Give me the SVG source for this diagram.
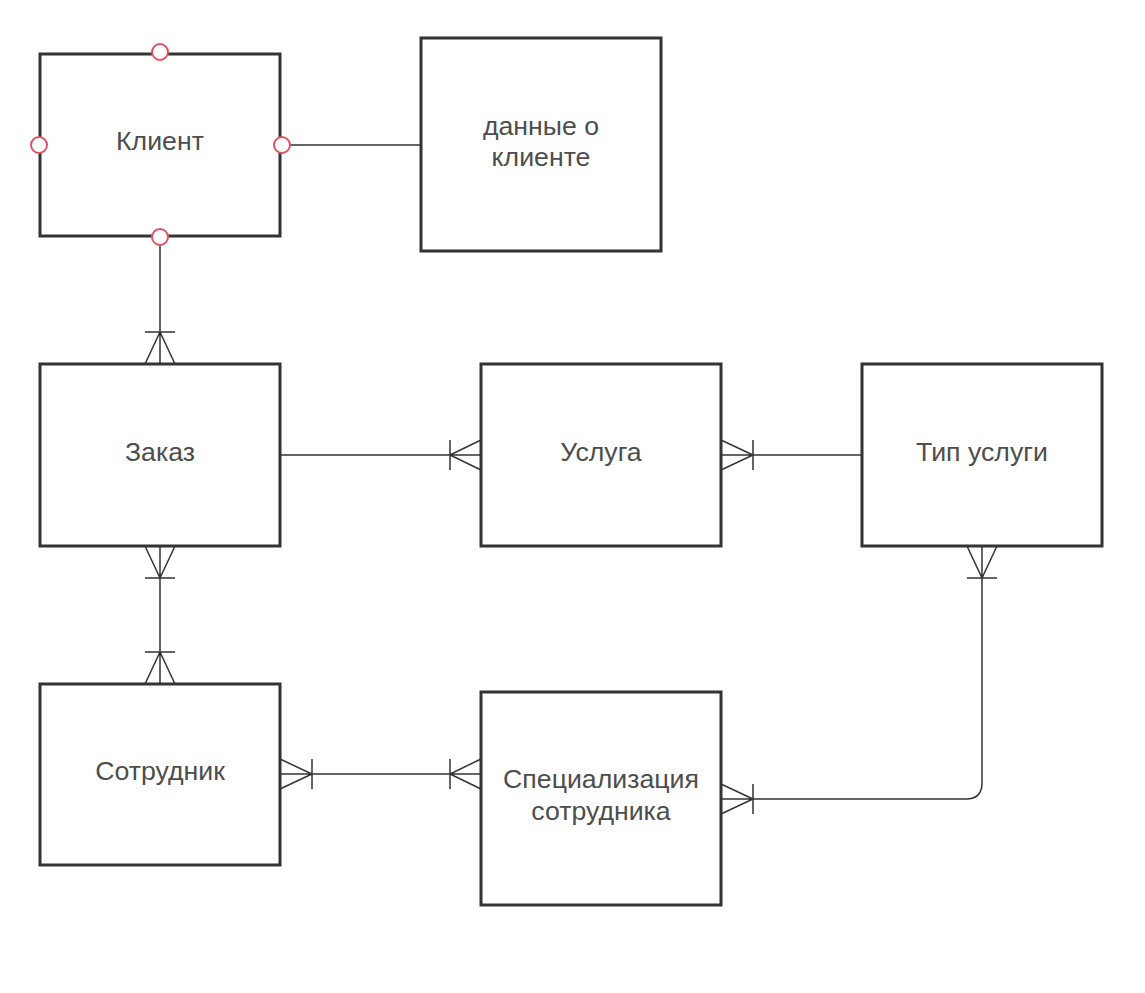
<svg xmlns="http://www.w3.org/2000/svg" width="1145" height="993" viewBox="0 0 1145 993">
<style>
.box{fill:#fff;stroke:#333;stroke-width:3}
.ln{fill:none;stroke:#333;stroke-width:1.5}
.t{font-family:"Liberation Sans",Arial,sans-serif;font-size:26.7px;fill:#4d4d4d;text-anchor:middle;dominant-baseline:central}
.c{fill:#fff;stroke:#e05263;stroke-width:2}
</style>
<rect width="1145" height="993" fill="#fff"/>
<g id="connectors">
<path class="ln" d="M160 237V364M145 332H175M145 364L160 332L175 364"/>
<path class="ln" d="M282 145H421"/>
<path class="ln" d="M280 455H481M450 440V470M481 440L450 455L481 470"/>
<path class="ln" d="M721 455H862M753 440V470M721 440L753 455L721 470"/>
<path class="ln" d="M160 546V684M145 578H175M145 546L160 578L175 546M145 652H175M145 684L160 652L175 684"/>
<path class="ln" d="M280 774H481M312 759V789M280 759L312 774L280 789M450 759V789M481 759L450 774L481 789"/>
<path class="ln" d="M982 546V783Q982 799 966 799H721M967 578H997M967 546L982 578L997 546M753 784V814M721 784L753 799L721 814"/>
</g>
<g id="klient">
<rect class="box" x="40" y="54" width="240" height="182"/>
<text class="t" x="160" y="141">Клиент</text>
<circle class="c" cx="160" cy="52" r="8"/>
<circle class="c" cx="39" cy="145" r="8"/>
<circle class="c" cx="282" cy="145" r="8"/>
<circle class="c" cx="160" cy="237" r="8"/>
</g>
<g id="dannye">
<rect class="box" x="421" y="38" width="240" height="213"/>
<text class="t" x="541" y="126">данные о</text>
<text class="t" x="541" y="157">клиенте</text>
</g>
<g id="zakaz">
<rect class="box" x="40" y="364" width="240" height="182"/>
<text class="t" x="160" y="452">Заказ</text>
</g>
<g id="usluga">
<rect class="box" x="481" y="364" width="240" height="182"/>
<text class="t" x="601" y="452">Услуга</text>
</g>
<g id="tip">
<rect class="box" x="862" y="364" width="240" height="182"/>
<text class="t" x="982" y="452">Тип услуги</text>
</g>
<g id="sotrudnik">
<rect class="box" x="40" y="684" width="240" height="181"/>
<text class="t" x="160" y="771">Сотрудник</text>
</g>
<g id="spec">
<rect class="box" x="481" y="692" width="240" height="213"/>
<text class="t" x="601" y="779">Специализация</text>
<text class="t" x="601" y="811">сотрудника</text>
</g>
</svg>
